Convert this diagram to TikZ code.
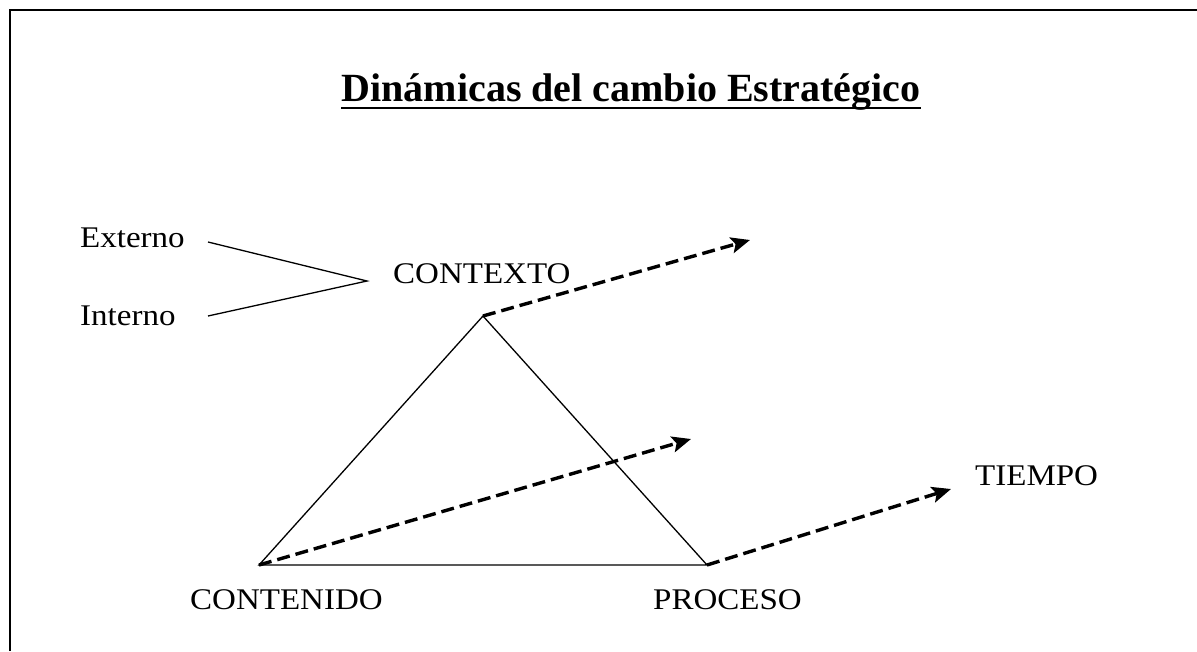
\documentclass[tikz,border=0pt]{standalone}
\usepackage{fontspec}
\setmainfont{Liberation Serif}
\newfontfamily\labelfont[FakeStretch=1.1]{Liberation Serif}
\usetikzlibrary{arrows.meta}

\tikzset{
  lbl/.style = {anchor=base west, inner sep=0pt, font=\labelfont\fontsize{30}{36}\selectfont},
  side/.style = {line width=1.3pt},
  flow/.style = {line width=3.4pt, dash pattern=on 13pt off 6pt,
    -{Stealth[length=19pt,width=16pt,inset=4pt]}},
}

\begin{document}
\begin{tikzpicture}
  [x = 1pt, y = -1pt]
  \useasboundingbox (0,0) rectangle (1197,651);
  \draw[line width=2.4pt] (10,651) -- (10,10) -- (1197,10);
  \node[anchor=base, inner sep=0pt, font=\fontsize{40}{48}\selectfont\bfseries] (title) at (631,101) {Dinámicas del cambio Estratégico};
  \draw[line width=2pt] ([yshift=-7pt]title.base west) -- ([yshift=-7pt]title.base east);
  \node[lbl] (ext) at (80,247) {Externo};
  \node[lbl] (int) at (80,325) {Interno};
  \node[lbl] (ctx) at (393,283) {CONTEXTO};
  \node[lbl] (tiempo) at (975,485) {TIEMPO};
  \node[lbl] (cont) at (190,609) {CONTENIDO};
  \node[lbl] (proc) at (653,609) {PROCESO};
  \coordinate (extend) at (208,242);
  \coordinate (intend) at (208,316);
  \coordinate (join) at (367,281);
  \coordinate (apex) at (483,316);
  \coordinate (bl) at (259,565);
  \coordinate (br) at (707,565);
  \coordinate (ctxend) at (750,240);
  \coordinate (midend) at (691,439);
  \coordinate (timeend) at (951,489);
  \draw[side] (extend) -- (join) -- (intend);
  \draw[side] (apex) -- (bl) -- (br) -- cycle;
  \foreach \a/\b in {apex/ctxend, bl/midend, br/timeend}{
    \draw[flow] (\a) -- (\b);
  }
\end{tikzpicture}
\end{document}
